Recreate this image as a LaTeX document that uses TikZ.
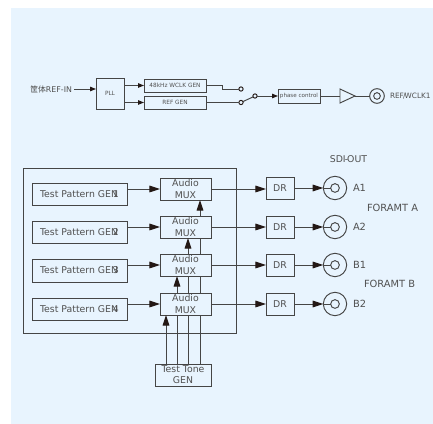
\documentclass[tikz,border=0pt]{standalone}
\usepackage{fontspec}
\setmainfont{DejaVu Sans}
\newfontfamily\cjk{Noto Sans CJK SC}
\usetikzlibrary{arrows.meta}
\definecolor{bgblue}{HTML}{E8F4FE}
\definecolor{ink}{HTML}{454545}
\definecolor{txt}{HTML}{505050}
\definecolor{tip}{HTML}{231815}
\tikzset{
  x=0.75pt,y=-0.75pt,
  box/.style={draw=ink,line width=0.72pt,inner sep=0pt,outer sep=0pt,text=txt,align=center},
  txtbig/.style={font=\fontsize{7}{8.4}\selectfont},
  txtsmall/.style={font=\fontsize{4.35}{5}\selectfont},
  wire/.style={draw=ink,line width=0.72pt},
  arr/.style={wire,-{Triangle[length=8pt,width=5pt,color=tip]}},
  arrs/.style={wire,-{Triangle[length=4.5pt,width=3.4pt,color=tip]}},
  lab/.style={text=txt,inner sep=0pt,outer sep=0pt},
  ring/.style={circle,draw=ink,line width=0.72pt,inner sep=0pt,outer sep=0pt},
  ringbig/.style={ring,minimum size=17.5pt},
  ringin/.style={ring,minimum size=6.5pt},
  term/.style={circle,draw=tip,line width=0.7pt,fill=bgblue,inner sep=0pt,outer sep=0pt,minimum size=3.2pt},
}
% name, x1, y1, x2, y2, extra style, text (pixel coordinates of the reference)
\newcommand{\pxbox}[7]{%
  \pgfmathsetmacro{\pxw}{(#4-#2)*0.75}%
  \pgfmathsetmacro{\pxh}{(#5-#3)*0.75}%
  \pgfmathsetmacro{\pxcx}{(#2+#4)/2}%
  \pgfmathsetmacro{\pxcy}{(#3+#5)/2}%
  \node[box,#6,minimum width=\pxw pt,minimum height=\pxh pt] (#1) at (\pxcx,\pxcy) {#7};}
\begin{document}
\begin{tikzpicture}
\useasboundingbox (0,0) rectangle (433,424);
\fill[white] (0,0) rectangle (433,424);
\fill[bgblue] (11,8) rectangle (433,424);
% --- reference chain
\node[lab,anchor=east,font=\fontsize{5.9}{7}\selectfont] (refin) at (72,89) {{\cjk 筐体}REF-IN};
\pxbox{pll}{96}{78}{124}{109}{txtsmall}{PLL}
\pxbox{wclk}{144}{79}{206}{92}{txtsmall}{48kHz WCLK GEN}
\pxbox{refgen}{144}{96}{206}{109}{txtsmall}{REF GEN}
\draw[arrs,shorten <=1.5pt] (refin.east) -- (pll.west |- refin.east);
\draw[arrs] (pll.east |- wclk.west) -- (wclk.west);
\draw[arrs] (pll.east |- refgen.west) -- (refgen.west);
\coordinate (step) at (222,85.5);
\node[term] (t1) at (241,89) {};
\node[term] (t2) at (241,102.5) {};
\node[term] (t3) at (255,96) {};
\draw[wire] (wclk.east) -- (step) -- (step |- t1) -- (t1);
\draw[wire] (refgen.east) -- (t2);
\draw[wire] (t2) -- (t3);
\pxbox{phase}{278}{89}{320}{103}{font=\fontsize{4.2}{5}\selectfont}{phase control}
\draw[arrs] (t3) -- (phase.west);
\coordinate (triA) at (340,89);
\coordinate (triB) at (340,103);
\coordinate (triW) at (340,96);
\coordinate (triE) at (355,96);
\draw[wire,line join=miter] (triA) -- (triE) -- (triB) -- cycle;
\draw[wire] (phase.east) -- (triW);
\node[ring,minimum size=11pt] (outring) at (377,96) {};
\node[ring,minimum size=5pt] (outin) at (377,96) {};
\draw[wire] (triE) -- (outring.west);
\node[lab,anchor=west,font=\fontsize{5.5}{7}\selectfont] (reflab) at (390,96) {REF\kern-.12em/\kern-.12em WCLK1};
% --- SDI section
\pxbox{outer}{23}{168}{236}{333}{}{}
\pxbox{tpgA}{32}{183}{127}{205}{txtbig}{Test Pattern GEN\kern-.55em 1}
\pxbox{tpgB}{32}{221}{127}{243}{txtbig}{Test Pattern GEN\kern-.55em 2}
\pxbox{tpgC}{32}{259}{127}{282}{txtbig}{Test Pattern GEN\kern-.55em 3}
\pxbox{tpgD}{32}{298}{127}{320}{txtbig}{Test Pattern GEN\kern-.55em 4}
\pxbox{muxA}{160}{178}{211}{200}{txtbig,fill=bgblue}{Audio\\MUX}
\pxbox{muxB}{160}{216}{211}{238}{txtbig,fill=bgblue}{Audio\\MUX}
\pxbox{muxC}{160}{254}{211}{276}{txtbig,fill=bgblue}{Audio\\MUX}
\pxbox{muxD}{160}{293}{211}{315}{txtbig,fill=bgblue}{Audio\\MUX}
\pxbox{tone}{155}{364}{211}{386}{txtbig}{Test Tone\\GEN}
\pxbox{drA}{266}{177}{294}{199}{txtbig}{DR}
\pxbox{drB}{266}{216}{294}{238}{txtbig}{DR}
\pxbox{drC}{266}{254}{294}{276}{txtbig}{DR}
\pxbox{drD}{266}{293}{294}{315}{txtbig}{DR}
\node[ringbig] (coA) at (335,188) {}; \node[ringin] (inA) at (335,188) {};
\node[ringbig] (coB) at (335,227) {}; \node[ringin] (inB) at (335,227) {};
\node[ringbig] (coC) at (335,265) {}; \node[ringin] (inC) at (335,265) {};
\node[ringbig] (coD) at (335,304) {}; \node[ringin] (inD) at (335,304) {};
\foreach \c/\y in {A/189,B/227,C/265,D/304}{
  \coordinate (g\c) at (0,\y);
  \draw[arr] (tpg\c.east |- g\c) -- (mux\c.west |- g\c);
  \draw[arr] (mux\c.east |- g\c) -- (dr\c.west |- g\c);
  \draw[arr] (dr\c.east |- co\c.west) -- (co\c.west);
  \draw[wire] (co\c.west) -- (in\c.west);
}
% vertical tone wires
\coordinate (va) at (166,364);
\coordinate (vb) at (177,364);
\coordinate (vc) at (188,364);
\coordinate (vd) at (200,364);
\draw[arr] (va) -- (va |- muxD.south);
\draw[wire] (vb) -- (vb |- muxD.south);
\draw[arr] (vb |- muxD.north) -- (vb |- muxC.south);
\draw[wire] (vc) -- (vc |- muxD.south);
\draw[wire] (vc |- muxD.north) -- (vc |- muxC.south);
\draw[arr] (vc |- muxC.north) -- (vc |- muxB.south);
\draw[wire] (vd) -- (vd |- muxD.south);
\draw[wire] (vd |- muxD.north) -- (vd |- muxC.south);
\draw[wire] (vd |- muxC.north) -- (vd |- muxB.south);
\draw[arr] (vd |- muxB.north) -- (vd |- muxA.south);
% labels
\node[lab,font=\fontsize{7}{8}\selectfont] (sdi) at (348.5,159) {SDI\kern-.1em-\kern-.1em OUT};
\node[lab,anchor=west,font=\fontsize{7.4}{8}\selectfont] (la) at (353,188) {A1};
\node[lab,anchor=west,font=\fontsize{7.4}{8}\selectfont] (lb) at (353,227) {A2};
\node[lab,anchor=west,font=\fontsize{7.4}{8}\selectfont] (lc) at (353,265) {B1};
\node[lab,anchor=west,font=\fontsize{7.4}{8}\selectfont] (ld) at (353,304) {B2};
\node[lab,anchor=west,font=\fontsize{7.4}{8}\selectfont] (fa) at (367,208) {FORAMT A};
\node[lab,anchor=west,font=\fontsize{7.4}{8}\selectfont] (fb) at (364,284) {FORAMT B};
\end{tikzpicture}
\end{document}
